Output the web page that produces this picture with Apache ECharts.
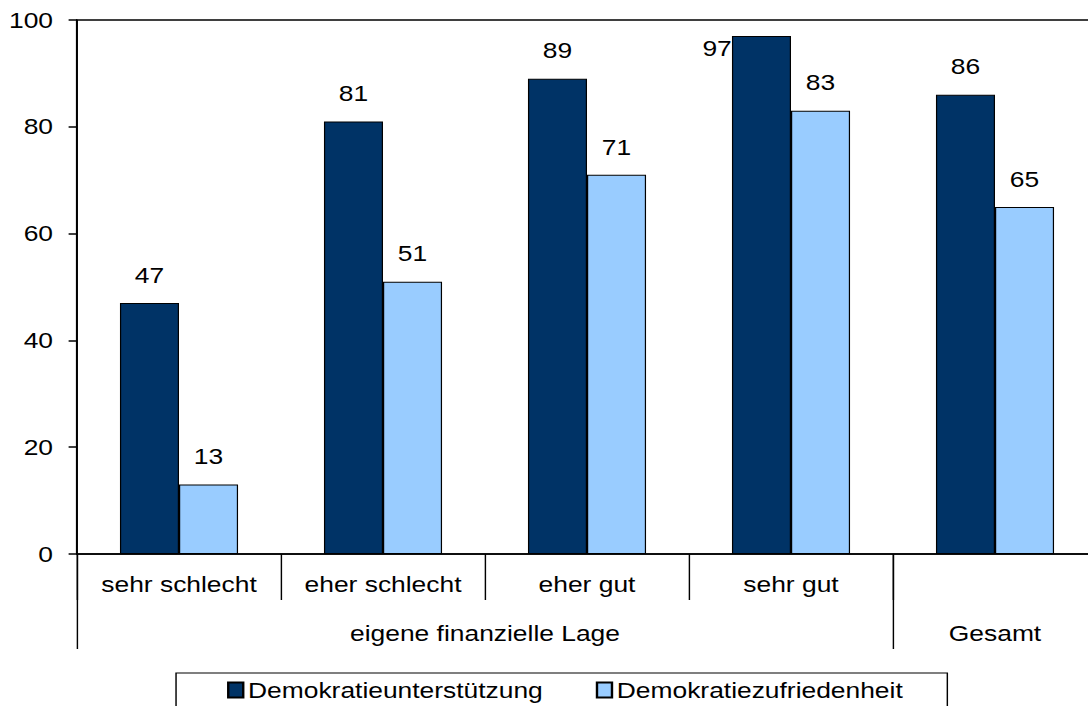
<!DOCTYPE html>
<html><head><meta charset="utf-8">
<script src="https://cdn.jsdelivr.net/npm/echarts@6/dist/echarts.min.js"></script>
<style>
html,body{margin:0;padding:0;background:#fff;overflow:hidden;}
#c{width:906.67px;height:706px;transform:scaleX(1.2);transform-origin:0 0;}
</style></head>
<body><div id="c"></div>
<script>
const categories = ['sehr schlecht', 'eher schlecht', 'eher gut', 'sehr gut', ''];
const groupLabels = ['eigene finanzielle Lage', 'Gesamt'];
const groupBounds = [0, 4, 5];
const seriesNames = ['Demokratieunterstützung', 'Demokratiezufriedenheit'];
const support = [47, 81, 89, 97, 86];
const satisfaction = [13, 51, 71, 83, 65];
const yTicks = [0, 20, 40, 60, 80, 100];

const FONT = "'Liberation Sans', Arial, sans-serif";
const groupCenters = groupLabels.map((_, i) => (groupBounds[i] + groupBounds[i + 1]) / 2);

const chart = echarts.init(document.getElementById('c'), null, {renderer: 'svg'});

const labelBase = {show: true, position: 'top', distance: 17, fontSize: 22, color: '#000', fontFamily: FONT};

const option = {
  animation: false,
  backgroundColor: '#fff',
  textStyle: {fontFamily: FONT},
  grid: {left: 64.17, width: 850, top: 20, bottom: 152, outerBoundsMode: 'none', containLabel: false,
         show: true, borderColor: '#000', borderWidth: 1.5, backgroundColor: 'transparent'},
  legend: {
    data: seriesNames,
    left: 146.7, top: 673,
    orient: 'horizontal',
    icon: 'rect',
    itemWidth: 12.5, itemHeight: 15, itemGap: 44,
    padding: [6, 37, 12, 42.5],
    borderColor: '#000', borderWidth: 1.2,
    textStyle: {fontSize: 22, color: '#000', fontFamily: FONT, padding: [0, 0, 0, -1]},
    selectedMode: false
  },
  xAxis: [
    {
      type: 'category', data: categories, position: 'bottom',
      axisLine: {show: true, lineStyle: {color: '#000', width: 1.5}},
      axisTick: {show: true, interval: 0, length: 46, lineStyle: {color: '#000', width: 1.2}},
      axisLabel: {interval: 0, margin: 19, fontSize: 22, color: '#000', fontFamily: FONT},
      splitLine: {show: false}
    },
    {
      type: 'value', min: groupBounds[0], max: groupBounds[groupBounds.length - 1], position: 'bottom',
      axisLine: {show: false},
      axisTick: {show: true, customValues: groupBounds.slice(0, -1), length: 95, lineStyle: {color: '#000', width: 1.2}},
      axisLabel: {
        customValues: groupCenters, margin: 68, fontSize: 22, color: '#000', fontFamily: FONT,
        formatter: v => { const i = groupCenters.indexOf(v); return i >= 0 ? groupLabels[i] : ''; }
      },
      splitLine: {show: false}
    }
  ],
  yAxis: {
    type: 'value', min: yTicks[0], max: yTicks[yTicks.length - 1], interval: yTicks[1] - yTicks[0],
    axisLine: {show: true, lineStyle: {color: '#000', width: 1.5}},
    axisTick: {show: true, length: 7, lineStyle: {color: '#000', width: 1.5}},
    axisLabel: {margin: 20, fontSize: 22, color: '#000', fontFamily: FONT},
    splitLine: {show: false}
  },
  series: [
    {
      name: seriesNames[0], type: 'bar', xAxisIndex: 0,
      barWidth: 49.2, barGap: '0%',
      itemStyle: {color: '#003366', borderColor: '#000', borderWidth: 1},
      label: labelBase,
      data: support.map((v, i) => v === Math.max(...support) ? {value: v, label: {offset: [-37, 40]}} : v)
    },
    {
      name: seriesNames[1], type: 'bar', xAxisIndex: 0,
      barWidth: 49.2, barGap: '0%',
      itemStyle: {color: '#99CCFF', borderColor: '#000', borderWidth: 1},
      label: labelBase,
      data: satisfaction
    }
  ]
};
chart.setOption(option);
</script>
</body></html>
